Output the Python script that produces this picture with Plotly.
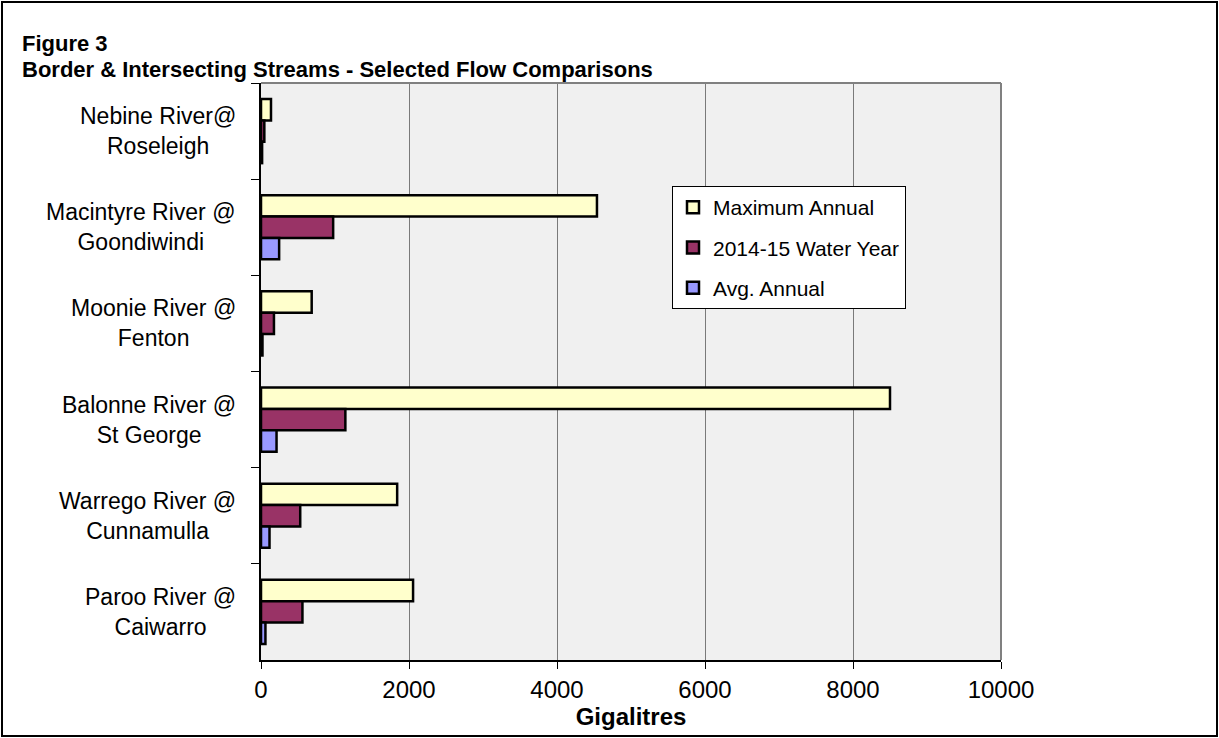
import plotly.graph_objects as go

categories = ["Nebine River@<br>Roseleigh", "Macintyre River @<br>Goondiwindi",
              "Moonie River @<br>Fenton", "Balonne River @<br>St George",
              "Warrego River @<br>Cunnamulla", "Paroo River @<br>Caiwarro"]
max_annual = [135, 4540, 685, 8500, 1840, 2055]
water_year = [45, 975, 175, 1140, 530, 560]
avg_annual = [15, 245, 20, 210, 115, 60]
series_names = ["Maximum Annual", "2014-15 Water Year", "Avg. Annual"]
series_colors = ["#FFFFCC", "#993366", "#9999FF"]
x_ticks = [0, 2000, 4000, 6000, 8000, 10000]

W, H = 1219, 738
L, R, T, B = 261, 218, 83, 78
PW, PH = W - L - R, H - T - B
FONT = "Liberation Sans, Arial, sans-serif"

def px2x(px):
    return (px - L) / PW

def py2y(py):
    return (H - B - py) / PH

fig = go.Figure()
for name, vals, col in zip(series_names, [max_annual, water_year, avg_annual], series_colors):
    fig.add_trace(go.Bar(
        y=categories, x=vals, name=name, orientation="h",
        marker=dict(color=col, line=dict(color="black", width=2.5)),
        legendgroup=name,
    ))

fig.update_layout(
    width=W, height=H,
    margin=dict(l=L, r=R, t=T, b=B),
    paper_bgcolor="white", plot_bgcolor="#F0F0F0",
    barmode="group", bargap=0.333, bargroupgap=0,
    font=dict(family=FONT, color="black", size=22),
    showlegend=True,
    legend=dict(
        x=px2x(672), y=py2y(186), xanchor="left", yanchor="top",
        bgcolor="white", bordercolor="black", borderwidth=1,
        font=dict(size=21, family=FONT), traceorder="grouped",
        tracegroupgap=10, itemwidth=30,
    ),
)

fig.update_xaxes(
    range=[0, 10000], tickvals=x_ticks, ticktext=[str(v) for v in x_ticks],
    showgrid=True, gridcolor="#7a7a7a", gridwidth=1,
    showline=True, linecolor="black", linewidth=1.5,
    ticks="outside", ticklen=7, tickcolor="black",
    tickfont=dict(size=24), zeroline=False,
    title=dict(text="<b>Gigalitres</b>", font=dict(size=24), standoff=0),
)
fig.update_yaxes(
    categoryorder="array", categoryarray=categories, autorange="reversed",
    showticklabels=False, showgrid=False,
    showline=True, linecolor="black", linewidth=1.5,
    ticks="outside", ticklen=8, tickcolor="black", tickson="boundaries",
    zeroline=False,
)

# plot area border (gray) on top and right
fig.add_shape(type="line", xref="paper", yref="paper", x0=0, y0=1, x1=1, y1=1,
              line=dict(color="#808080", width=2))
fig.add_shape(type="line", xref="paper", yref="paper", x0=1, y0=0, x1=1, y1=1,
              line=dict(color="#808080", width=2))
# outer frame
fig.add_shape(type="rect", xref="paper", yref="paper",
              x0=px2x(2), x1=px2x(1217), y0=py2y(736), y1=py2y(2),
              line=dict(color="black", width=2))

# category labels (lines centered, block right-aligned)
for c in categories:
    fig.add_annotation(x=px2x(238), xref="paper", y=c, yref="y",
                       text=c, showarrow=False, xanchor="right",
                       yanchor="middle", align="center",
                       font=dict(size=23, family=FONT))

fig.add_annotation(x=px2x(20), y=py2y(44), xref="paper", yref="paper",
                   text="<b>Figure 3</b>", showarrow=False, xanchor="left",
                   yanchor="middle", font=dict(size=22, family=FONT))
fig.add_annotation(x=px2x(20), y=py2y(70), xref="paper", yref="paper",
                   text="<b>Border & Intersecting Streams - Selected Flow Comparisons</b>",
                   showarrow=False, xanchor="left", yanchor="middle",
                   font=dict(size=22, family=FONT))

fig.write_html("out.html")
